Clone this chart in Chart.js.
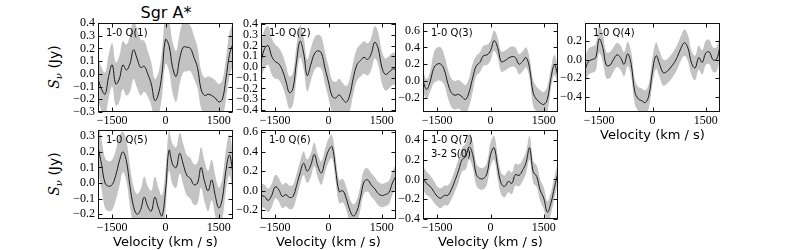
<!DOCTYPE html>
<html>
<head>
<meta charset="utf-8">
<script src="https://cdn.jsdelivr.net/npm/chart.js@4.4.0/dist/chart.umd.min.js"></script>
<style>
body{margin:0;background:#fff;}
#fig{position:relative;width:800px;height:250px;overflow:hidden;font-family:"DejaVu Sans";color:#000;}
#fig canvas{position:absolute;}
.ylab{position:absolute;left:55px;white-space:nowrap;font-size:14px;line-height:1;transform:translate(-50%,-50%) rotate(-90deg);}
.ylab i{font-family:"DejaVu Serif";}
.ylab sub{font-family:"DejaVu Serif";font-style:italic;font-size:10px;vertical-align:-3px;}
#title{position:absolute;left:166px;top:12px;transform:translate(-50%,-50%);font-size:16px;white-space:nowrap;}
</style>
</head>
<body>
<div id="fig">
  <div id="title">Sgr A*</div>
  <div class="ylab" style="top:67px"><i>S</i><sub>ν</sub> (Jy)</div>
  <div class="ylab" style="top:174px"><i>S</i><sub>ν</sub> (Jy)</div>
</div>
<script>
// velocity grid (km/s)
const velocity = [-1900,-1800,-1700,-1600,-1500,-1400,-1300,-1200,-1100,-1000,
  -900,-800,-700,-600,-500,-400,-300,-200,-100,0,
  100,200,300,400,500,600,700,800,900,1000,
  1100,1200,1300,1400,1500,1600,1700,1800,1900];

// flux (Jy) and 1-sigma width
const q1 = [-0.04,-0.12,-0.16,-0.02,0.07,-0.08,-0.04,0.07,0.03,0.08,0.19,0.12,0.05,0.06,0.00,-0.08,-0.21,-0.16,0.00,0.27,0.22,0.05,-0.02,0.12,0.21,0.21,0.20,0.13,0.05,-0.12,-0.17,-0.16,-0.17,-0.19,-0.22,-0.20,-0.04,0.15,0.24];
const q1Err = [0.17,0.17,0.17,0.17,0.17,0.17,0.18,0.19,0.20,0.22,0.23,0.23,0.22,0.20,0.18,0.17,0.17,0.17,0.18,0.19,0.20,0.20,0.20,0.20,0.20,0.19,0.18,0.17,0.16,0.15,0.14,0.14,0.14,0.14,0.14,0.15,0.16,0.17,0.17];

const q2 = [0.05,0.17,0.20,0.10,0.05,0.03,-0.03,-0.13,-0.24,-0.20,0.05,0.24,0.13,-0.08,0.02,0.12,0.15,0.13,-0.01,-0.14,-0.27,-0.29,-0.26,-0.30,-0.33,-0.26,-0.10,0.02,0.06,0.09,0.07,0.12,0.23,0.17,0.00,-0.07,-0.05,-0.02,-0.02];
const q2Err = [0.17,0.18,0.18,0.17,0.16,0.15,0.15,0.15,0.15,0.15,0.15,0.15,0.15,0.15,0.15,0.15,0.15,0.15,0.15,0.15,0.15,0.15,0.15,0.15,0.15,0.15,0.15,0.15,0.15,0.15,0.15,0.15,0.15,0.15,0.15,0.15,0.15,0.15,0.15];

const q3 = [0.00,-0.10,-0.01,0.15,0.20,0.20,0.13,-0.03,-0.14,-0.17,-0.16,-0.19,-0.22,-0.13,0.04,0.18,0.22,0.30,0.31,0.36,0.48,0.40,0.23,0.24,0.27,0.29,0.28,0.20,0.23,0.28,0.15,-0.14,-0.22,-0.26,-0.28,-0.22,0.03,0.19,0.05];
const q3Err = [0.12,0.12,0.12,0.18,0.20,0.20,0.18,0.17,0.17,0.17,0.17,0.17,0.17,0.17,0.17,0.12,0.12,0.12,0.12,0.12,0.12,0.12,0.12,0.12,0.12,0.12,0.12,0.12,0.12,0.12,0.12,0.15,0.15,0.15,0.15,0.15,0.12,0.12,0.12];

const q4 = [-0.11,-0.02,0.00,0.02,0.22,0.13,-0.06,-0.06,0.00,0.05,0.02,-0.05,0.06,-0.05,-0.34,-0.42,-0.44,-0.46,-0.38,-0.12,0.04,-0.05,-0.14,-0.13,-0.09,-0.04,0.03,0.12,0.18,0.12,-0.04,-0.09,0.02,-0.03,0.07,0.08,0.00,0.00,0.14];
const q4Err = [0.14,0.14,0.14,0.14,0.15,0.15,0.14,0.14,0.13,0.13,0.13,0.13,0.13,0.13,0.13,0.13,0.13,0.13,0.13,0.14,0.14,0.14,0.14,0.13,0.13,0.13,0.13,0.13,0.14,0.14,0.13,0.13,0.13,0.13,0.13,0.13,0.13,0.13,0.13];

const q5 = [0.23,0.12,0.00,-0.02,-0.01,0.05,0.14,0.20,0.14,-0.02,-0.15,-0.20,-0.17,-0.09,-0.15,-0.18,-0.09,-0.16,-0.21,-0.05,0.21,0.12,0.10,0.19,0.12,0.05,0.03,-0.01,0.00,0.10,0.01,-0.05,0.02,-0.08,-0.16,-0.10,0.08,0.18,0.06];
const q5Err = [0.16,0.16,0.16,0.16,0.16,0.16,0.16,0.13,0.13,0.13,0.13,0.13,0.13,0.13,0.13,0.13,0.13,0.13,0.13,0.13,0.13,0.13,0.13,0.13,0.13,0.13,0.13,0.13,0.13,0.13,0.13,0.13,0.13,0.13,0.13,0.13,0.13,0.13,0.13];

const q6 = [-0.05,-0.06,-0.10,-0.05,0.04,0.01,-0.06,-0.04,-0.07,-0.06,0.05,0.18,0.28,0.20,0.26,0.37,0.25,0.18,0.30,0.41,0.45,0.22,-0.01,0.00,-0.08,-0.20,-0.26,-0.21,-0.07,0.09,0.11,0.06,0.02,-0.03,-0.05,-0.04,-0.02,0.08,0.15];
const q6Err = [0.12,0.12,0.12,0.12,0.12,0.12,0.12,0.12,0.12,0.12,0.12,0.12,0.12,0.12,0.12,0.12,0.12,0.12,0.12,0.12,0.12,0.12,0.12,0.12,0.12,0.12,0.12,0.12,0.12,0.12,0.12,0.12,0.12,0.12,0.12,0.12,0.12,0.12,0.12];

const q7 = [0.01,-0.04,-0.07,-0.12,-0.17,-0.19,-0.16,-0.16,-0.10,-0.01,0.09,0.20,0.23,0.33,0.25,0.05,0.01,0.01,0.06,0.25,0.32,0.13,-0.04,-0.07,-0.02,-0.04,0.05,0.04,0.09,0.17,0.32,0.08,0.03,-0.11,-0.19,-0.33,-0.24,-0.08,0.07];
const q7Err = [0.12,0.12,0.11,0.11,0.10,0.10,0.10,0.10,0.10,0.11,0.12,0.12,0.13,0.13,0.13,0.11,0.11,0.11,0.11,0.12,0.12,0.12,0.11,0.11,0.11,0.11,0.11,0.11,0.11,0.11,0.12,0.11,0.11,0.11,0.11,0.11,0.11,0.11,0.11];

const xTicks = [-1500, 0, 1500];

const panels = [
  {name:['1-0 Q(1)'], flux:q1, err:q1Err, yMin:-0.3, yMax:0.4, step:0.1, left:98, top:23, xTitle:false},
  {name:['1-0 Q(2)'], flux:q2, err:q2Err, yMin:-0.42, yMax:0.41, step:0.1, left:261, top:23, xTitle:false},
  {name:['1-0 Q(3)'], flux:q3, err:q3Err, yMin:-0.37, yMax:0.69, step:0.2, left:423, top:23, xTitle:false},
  {name:['1-0 Q(4)'], flux:q4, err:q4Err, yMin:-0.56, yMax:0.39, step:0.2, left:585, top:23, xTitle:true},
  {name:['1-0 Q(5)'], flux:q5, err:q5Err, yMin:-0.23, yMax:0.34, step:0.1, left:98, top:130, xTitle:true},
  {name:['1-0 Q(6)'], flux:q6, err:q6Err, yMin:-0.29, yMax:0.62, step:0.2, left:261, top:130, xTitle:true},
  {name:['1-0 Q(7)','3-2 S(0)'], flux:q7, err:q7Err, yMin:-0.40, yMax:0.50, step:0.2, left:423, top:130, xTitle:true}
];

const W = 135, H = 89, AX = 40, PT = 8, PR = 6;
const minus = v => (v < 0 ? '\u2212' : '');
const fmtY = v => { const r = Math.round(v * 10) / 10; return (r < 0 ? '\u2212' : '') + Math.abs(r).toFixed(1); };
const fmtX = v => minus(v) + Math.abs(Math.round(v));

// box with inward ticks, matplotlib style
const framePlugin = {
  id: 'frame',
  afterDatasetsDraw(chart) {
    const {ctx, chartArea: a, scales} = chart;
    ctx.save();
    ctx.strokeStyle = '#111';
    ctx.lineWidth = 1;
    const l = Math.round(a.left) + 0.5, t = Math.round(a.top) + 0.5;
    const r = Math.round(a.right) - 0.5, b = Math.round(a.bottom) - 0.5;
    ctx.strokeRect(l, t, r - l, b - t);
    ctx.beginPath();
    scales.x.ticks.forEach(tk => {
      const px = Math.round(scales.x.getPixelForValue(tk.value)) + 0.5;
      ctx.moveTo(px, b); ctx.lineTo(px, b - 4);
      ctx.moveTo(px, t); ctx.lineTo(px, t + 4);
    });
    scales.y.ticks.forEach(tk => {
      const py = Math.round(scales.y.getPixelForValue(tk.value)) + 0.5;
      ctx.moveTo(l, py); ctx.lineTo(l + 4, py);
      ctx.moveTo(r, py); ctx.lineTo(r - 4, py);
    });
    ctx.stroke();
    ctx.restore();
  }
};

const namePlugin = {
  id: 'panelName',
  afterDraw(chart) {
    const {ctx, chartArea: a} = chart;
    const lines = chart.options.plugins.panelName.lines;
    ctx.save();
    ctx.fillStyle = '#000';
    ctx.font = '10px "DejaVu Sans"';
    ctx.textBaseline = 'middle';
    lines.forEach((s, i) => ctx.fillText(s, a.left + 8, a.top + 10 + i * 14));
    ctx.restore();
  }
};

const fig = document.getElementById('fig');

panels.forEach(p => {
  const xH = p.xTitle ? 31 : 22;
  const c = document.createElement('canvas');
  c.width = AX + W + PR;
  c.height = PT + H + xH;
  c.style.left = (p.left - AX) + 'px';
  c.style.top = (p.top - PT) + 'px';
  fig.appendChild(c);

  const mid = velocity.map((v, i) => ({x: v, y: p.flux[i]}));
  const hi = velocity.map((v, i) => ({x: v, y: p.flux[i] + p.err[i]}));
  const lo = velocity.map((v, i) => ({x: v, y: p.flux[i] - p.err[i]}));

  new Chart(c, {
    type: 'line',
    data: {
      datasets: [
        {data: mid, borderColor: '#1a1a1a', borderWidth: 1, tension: 0.4, fill: false, pointRadius: 0},
        {data: hi, borderColor: 'rgba(0,0,0,0)', borderWidth: 0, tension: 0.4, fill: false, pointRadius: 0},
        {data: lo, borderColor: 'rgba(0,0,0,0)', borderWidth: 0, tension: 0.4, fill: '-1',
         backgroundColor: '#c3c3c3', pointRadius: 0}
      ]
    },
    options: {
      responsive: false,
      animation: false,
      devicePixelRatio: 1,
      layout: {padding: {top: PT, right: PR, left: 0, bottom: 0}},
      plugins: {
        legend: {display: false},
        tooltip: {enabled: false},
        filler: {drawTime: 'beforeDatasetsDraw'},
        panelName: {lines: p.name}
      },
      scales: {
        x: {
          type: 'linear', min: -1900, max: 1900,
          grid: {display: false, drawTicks: false},
          border: {display: false},
          ticks: {stepSize: 1500, includeBounds: false, autoSkip: false, maxRotation: 0, padding: 2,
                  color: '#000', font: {family: 'Liberation Serif', size: 12}, callback: fmtX},
          afterBuildTicks: s => { s.ticks = xTicks.map(v => ({value: v})); },
          title: {display: p.xTitle, text: 'Velocity (km / s)', color: '#000',
                  font: {family: 'DejaVu Sans', size: 13}, padding: {top: 0, bottom: 0}},
          afterFit: s => { s.height = xH; s.paddingLeft = 0; s.paddingRight = 0; }
        },
        y: {
          min: p.yMin, max: p.yMax,
          grid: {display: false, drawTicks: false},
          border: {display: false},
          ticks: {stepSize: p.step, includeBounds: false, autoSkip: false, padding: 3,
                  color: '#000', font: {family: 'Liberation Serif', size: 12}, callback: fmtY},
          afterBuildTicks: s => { s.ticks = s.ticks.filter(t => t.value >= s.min - 1e-9 && t.value <= s.max + 1e-9); },
          afterFit: s => { s.width = AX; s.paddingTop = 0; s.paddingBottom = 0; }
        }
      }
    },
    plugins: [framePlugin, namePlugin]
  });
});
</script>
</body>
</html>
